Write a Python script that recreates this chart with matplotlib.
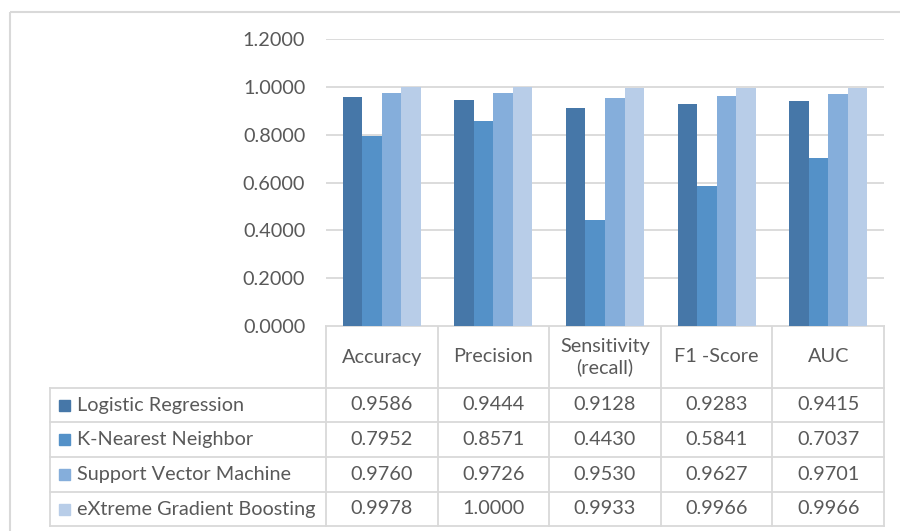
import matplotlib
matplotlib.use("Agg")
from matplotlib import pyplot as plt
from matplotlib.patches import Rectangle

# metrics (columns) and models (rows)
metrics = ["Accuracy", "Precision", "Sensitivity\n(recall)", "F1 -Score", "AUC"]
models = ["Logistic Regression", "K-Nearest Neighbor",
          "Support Vector Machine", "eXtreme Gradient Boosting"]

logistic = [0.9586, 0.9444, 0.9128, 0.9283, 0.9415]
knn = [0.7952, 0.8571, 0.4430, 0.5841, 0.7037]
svm = [0.9760, 0.9726, 0.9530, 0.9627, 0.9701]
xgb = [0.9978, 1.0000, 0.9933, 0.9966, 0.9966]
scores = [logistic, knn, svm, xgb]

yticks = [0.0, 0.2, 0.4, 0.6, 0.8, 1.0, 1.2]

colors = ["#4677A8", "#5491C8", "#85AEDB", "#B8CDE8"]
TXT = "#595959"
GRID = "#D9D9D9"
FONT = "Lato"
FS = 14.3

W, H = 900, 531
fig = plt.figure(figsize=(W / 100, H / 100), dpi=100)


def px(x, y, w, h):
    # pixel box (top-left origin) -> figure fraction
    return [x / W, 1 - (y + h) / H, w / W, h / H]


# overlay in pixel coordinates for frame and table
ov = fig.add_axes([0, 0, 1, 1])
ov.set_xlim(0, W)
ov.set_ylim(H, 0)
ov.axis("off")

# outer chart frame
ov.add_patch(Rectangle((10, 12), W, H, fill=False, edgecolor=GRID, lw=1.5))

# bar area
x0, x1 = 326, 884
ytop, ybot = 39, 326
ax = fig.add_axes(px(x0, ytop, x1 - x0, ybot - ytop))
ax.set_xlim(0, len(metrics))
ax.set_ylim(0, 1.2)
bw = 0.175
for j, (vals, c) in enumerate(zip(scores, colors)):
    xs = [i + 0.5 + (j - 1.5) * bw for i in range(len(metrics))]
    ax.bar(xs, vals, width=bw, color=c, zorder=3)
ax.set_yticks(yticks)
ax.set_yticklabels([f"{t:.4f}" for t in yticks], fontsize=FS, color=TXT, family=FONT)
ax.tick_params(axis="y", length=0, pad=15)
ax.set_xticks([])
ax.grid(axis="y", color=GRID, lw=1.3, zorder=0)
for s in ax.spines.values():
    s.set_visible(False)

# data table under the bars
col_edges = [x0 + i * (x1 - x0) / len(metrics) for i in range(len(metrics) + 1)]
hdr_top, hdr_bot = 326, 388
row_edges = [388, 422, 457, 492, 526]
leg_x = 50
lc = GRID
lw = 1.3

# header grid
ov.plot([x0, x1], [hdr_top, hdr_top], color=lc, lw=lw)
for xe in col_edges:
    ov.plot([xe, xe], [hdr_top, row_edges[-1]], color=lc, lw=lw)
ov.plot([leg_x, leg_x], [row_edges[0], row_edges[-1]], color=lc, lw=lw)
for ye in row_edges:
    ov.plot([leg_x, x1], [ye, ye], color=lc, lw=lw)

for i, m in enumerate(metrics):
    cx = (col_edges[i] + col_edges[i + 1]) / 2
    ov.text(cx, (hdr_top + hdr_bot) / 2, m, ha="center", va="center",
            fontsize=FS, color=TXT, family=FONT, linespacing=1.25)

for r, (name, vals, c) in enumerate(zip(models, scores, colors)):
    cy = (row_edges[r] + row_edges[r + 1]) / 2
    ov.add_patch(Rectangle((59, cy - 5.5), 11, 11, color=c))
    ov.text(77, cy, name, ha="left", va="center", fontsize=FS, color=TXT, family=FONT)
    for i, v in enumerate(vals):
        cx = (col_edges[i] + col_edges[i + 1]) / 2
        ov.text(cx, cy, f"{v:.4f}", ha="center", va="center",
                fontsize=FS, color=TXT, family=FONT)

fig.savefig("out.png", dpi=100)
